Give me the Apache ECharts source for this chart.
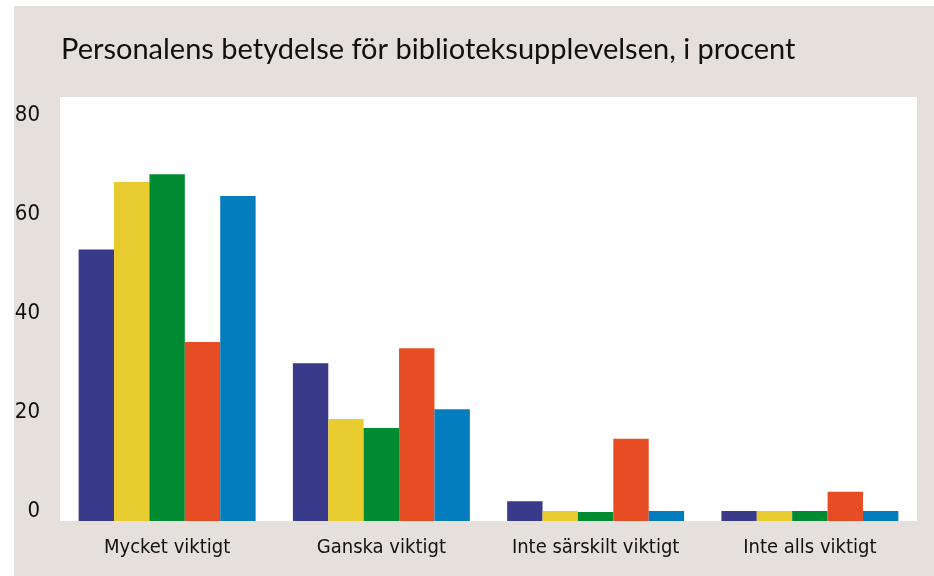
<!DOCTYPE html>
<html>
<head>
<meta charset="utf-8">
<script src="https://cdn.jsdelivr.net/npm/echarts@6/dist/echarts.min.js"></script>
<style>
html,body{margin:0;padding:0;background:#ffffff;}
#chart{width:934px;height:576px;}
</style>
</head>
<body>
<div id="chart"></div>
<script>
const titleText = "Personalens betydelse för biblioteksupplevelsen, i procent";
const categories = ["Mycket viktigt", "Ganska viktigt", "Inte särskilt viktigt", "Inte alls viktigt"];
const series1 = [54.9, 31.9, 4.0, 2.0];
const series2 = [68.5, 20.6, 2.0, 2.0];
const series3 = [70.1, 18.8, 1.8, 2.0];
const series4 = [36.2, 34.9, 16.6, 5.9];
const series5 = [65.7, 22.6, 2.0, 2.0];
const colors = ["#393b8a", "#e8cb2e", "#008a32", "#e64d25", "#037dbd"];
const allSeries = [series1, series2, series3, series4, series5];

const chart = echarts.init(document.getElementById('chart'), null, {renderer: 'canvas'});
const labelFont = '"DejaVu Sans Condensed", "Liberation Sans Narrow", sans-serif';
chart.setOption({
  animation: false,
  backgroundColor: '#ffffff',
  graphic: [{
    type: 'rect', z: -10, silent: true,
    shape: {x: 14, y: 6, width: 920, height: 570},
    style: {fill: '#e5e0dc'}
  }],
  title: {
    text: titleText,
    left: 56, top: 30,
    textStyle: {fontFamily: 'Lato, sans-serif', fontSize: 29, fontWeight: 'normal', color: '#111'}
  },
  grid: {
    left: 60, right: 17, top: 97, bottom: 55,
    show: true, backgroundColor: '#ffffff', borderWidth: 0
  },
  xAxis: {
    type: 'category',
    data: categories,
    axisLine: {show: false},
    axisTick: {show: false},
    axisLabel: {interval: 0, fontFamily: labelFont, fontSize: 20, color: '#111', margin: 17, verticalAlign: 'top'}
  },
  yAxis: {
    type: 'value',
    min: 0, max: 85.7, interval: 20,
    splitLine: {show: false},
    axisLine: {show: false},
    axisTick: {show: false},
    axisLabel: {
      fontFamily: labelFont, fontSize: 22, color: '#111', margin: 20,
      verticalAlign: 'bottom', lineHeight: 20,
      formatter: function (v) { return v % 20 === 0 ? String(v) : ''; }
    }
  },
  series: allSeries.map(function (d, i) {
    return {
      type: 'bar',
      data: d,
      barGap: '0%',
      barCategoryGap: '17.4%',
      itemStyle: {color: colors[i]}
    };
  })
});
</script>
</body>
</html>
